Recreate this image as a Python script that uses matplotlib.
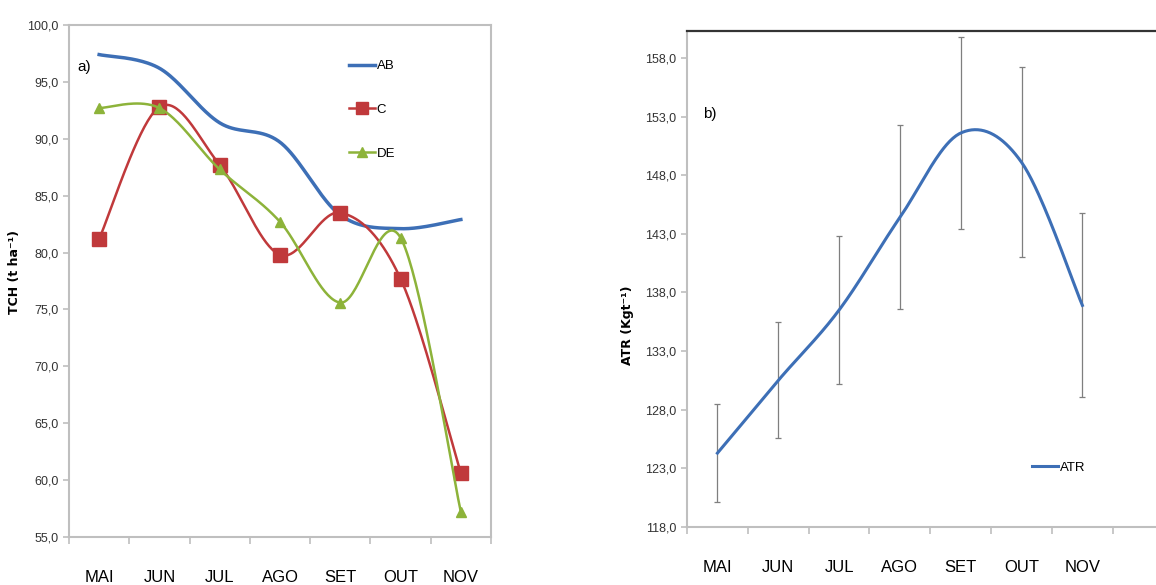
import numpy as np
import matplotlib
matplotlib.use("Agg")
import matplotlib.pyplot as plt
from matplotlib.ticker import FuncFormatter

# data
months = ["MAI", "JUN", "JUL", "AGO", "SET", "OUT", "NOV"]
tch_ab = [97.4, 96.2, 91.4, 89.7, 83.3, 82.1, 82.9]
tch_c = [81.2, 92.8, 87.7, 79.8, 83.5, 77.7, 60.6]
tch_de = [92.7, 92.7, 87.3, 82.7, 75.6, 81.3, 57.2]
atr = [124.3, 130.5, 136.5, 144.4, 151.6, 149.1, 136.9]
atr_err = [4.15, 4.95, 6.3, 7.85, 8.15, 8.1, 7.85]

FONT = ["Liberation Sans", "DejaVu Sans"]


def smooth(y, n=40):
    # excel-like smoothed line (catmull-rom bezier through the points)
    x = np.arange(len(y), dtype=float)
    y = np.asarray(y, dtype=float)
    xs, ys = [], []
    for i in range(len(y) - 1):
        i0, i3 = max(i - 1, 0), min(i + 2, len(y) - 1)
        p0 = np.array([x[i], y[i]])
        p3 = np.array([x[i + 1], y[i + 1]])
        c1 = p0 + (p3 - np.array([x[i0], y[i0]])) / 6
        c2 = p3 - (np.array([x[i3], y[i3]]) - p0) / 6
        t = np.linspace(0, 1, n)[:, None]
        pts = (1 - t) ** 3 * p0 + 3 * (1 - t) ** 2 * t * c1 + 3 * (1 - t) * t ** 2 * c2 + t ** 3 * p3
        xs.extend(pts[:, 0])
        ys.extend(pts[:, 1])
    return np.array(xs), np.array(ys)


comma = FuncFormatter(lambda v, p: f"{v:.1f}".replace(".", ","))
gray = "#bfbfbf"

fig = plt.figure(figsize=(11.56, 5.85), dpi=100)
ax1 = fig.add_axes([69 / 1156, 1 - 537 / 585, 422 / 1156, 512 / 585])
ax2 = fig.add_axes([687 / 1156, 1 - 527 / 585, 469 / 1156, 496 / 585])

x = np.arange(len(months))

# panel a
blue, red, green = "#3d6fb6", "#c0393b", "#8db33a"
sx, sy = smooth(tch_ab)
ax1.plot(sx, sy, color=blue, lw=2.5)
sx, sy = smooth(tch_c)
ax1.plot(sx, sy, color=red, lw=1.8)
ax1.plot(x, tch_c, "s", color=red, ms=10, ls="none")
sx, sy = smooth(tch_de)
ax1.plot(sx, sy, color=green, lw=1.8)
ax1.plot(x, tch_de, "^", color=green, ms=7, ls="none")

ax1.plot([], [], color=blue, lw=2.5, label="AB")
ax1.plot([], [], color=red, lw=1.8, marker="s", ms=9, label="C")
ax1.plot([], [], color=green, lw=1.8, marker="^", ms=7, label="DE")
h, l = ax1.get_legend_handles_labels()
ax1.legend(h[-3:], l[-3:], loc="upper left", bbox_to_anchor=(0.635, 0.955), frameon=False,
           handlelength=2.0, handletextpad=0.1, labelspacing=2.4,
           prop={"family": FONT, "size": 9.5})

ax1.set_xlim(-0.5, 6.5)
ax1.set_ylim(55, 100)
ax1.set_yticks(np.arange(55, 100.1, 5))
ax1.yaxis.set_major_formatter(comma)
ax1.text(0.02, 0.91, "a)", transform=ax1.transAxes, fontsize=11, family=FONT)

# panel b
sx, sy = smooth(atr)
ax2.errorbar(x, atr, yerr=atr_err, fmt="none", ecolor="#7f7f7f", elinewidth=0.9,
             capsize=2.5, capthick=0.9)
ax2.plot(sx, sy, color=blue, lw=2.2, label="ATR")
ax2.legend(loc="center left", bbox_to_anchor=(0.71, 0.119), frameon=False,
           handlelength=2.0, handletextpad=0.1, prop={"family": FONT, "size": 9.5})
ax2.set_xlim(-0.5, 7.21)
ax2.set_ylim(118, 160.3)
ax2.set_yticks(np.arange(118, 158.1, 5))
ax2.yaxis.set_major_formatter(comma)
ax2.text(0.035, 0.825, "b)", transform=ax2.transAxes, fontsize=11, family=FONT)

for ax in (ax1, ax2):
    ax.set_xticks(x)
    ax.set_xticklabels(months, family=FONT, fontsize=12)
    ax.set_xticks(np.arange(-0.5, 6.6, 1), minor=True)
    ax.tick_params(axis="x", which="major", length=0, pad=24)
    ax.tick_params(axis="x", which="minor", length=5, color=gray, width=1.2)
    ax.tick_params(axis="y", length=4, color=gray, width=1.2, labelsize=9, labelcolor="#333333")
    for t in ax.get_yticklabels():
        t.set_family(FONT)
    for s in ax.spines.values():
        s.set_color(gray)
        s.set_linewidth(1.5)

ax2.spines["right"].set_visible(False)
ax2.spines["top"].set_color("#333333")
ax2.spines["top"].set_linewidth(1.6)

fig.text(15 / 1156, 1 - 272 / 585, "TCH (t ha\u207b\u00b9)", rotation=90, fontsize=9,
         fontweight="bold", ha="center", va="center", family="DejaVu Sans")
fig.text(627 / 1156, 1 - 325 / 585, "ATR (Kgt\u207b\u00b9)", rotation=90, fontsize=9,
         fontweight="bold", ha="center", va="center", family="DejaVu Sans")

fig.savefig("out.png", dpi=100)
